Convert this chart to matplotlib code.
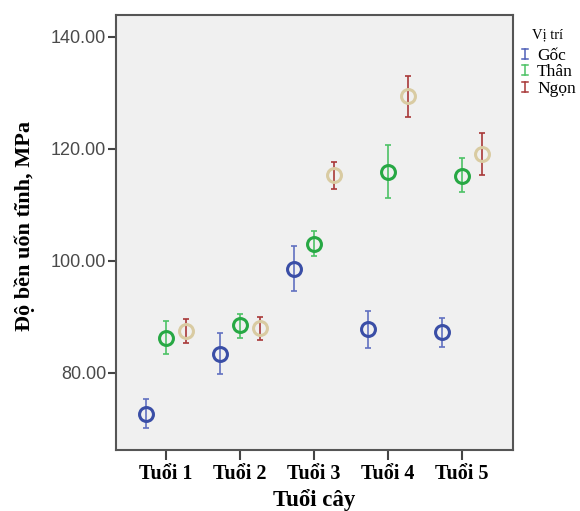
import matplotlib.pyplot as plt
from matplotlib.lines import Line2D
import numpy as np

# Tuổi cây categories
ages = ['Tuổi 1', 'Tuổi 2', 'Tuổi 3', 'Tuổi 4', 'Tuổi 5']
positions = ['Gốc', 'Thân', 'Ngọn']

# means and 95% CI bounds (MPa)
goc_mean = [72.7, 83.4, 98.6, 87.8, 87.3]
goc_low = [70.2, 79.8, 94.7, 84.4, 84.7]
goc_high = [75.4, 87.1, 102.6, 91.0, 89.9]

than_mean = [86.3, 88.5, 103.1, 115.9, 115.2]
than_low = [83.3, 86.3, 100.9, 111.3, 112.3]
than_high = [89.3, 90.6, 105.4, 120.7, 118.3]

ngon_mean = [87.5, 88.0, 115.3, 129.5, 119.1]
ngon_low = [85.3, 85.8, 112.8, 125.7, 115.4]
ngon_high = [89.6, 90.0, 117.6, 133.0, 122.8]

series = [
    (goc_mean, goc_low, goc_high, '#3a4ea6', '#6070c0'),
    (than_mean, than_low, than_high, '#27a844', '#4cc265'),
    (ngon_mean, ngon_low, ngon_high, '#d9cba2', '#a83838'),
]

W, H = 580, 511
fig = plt.figure(figsize=(W / 100, H / 100), dpi=100)
ax = fig.add_axes([116 / W, 1 - 450 / H, 397 / W, 435 / H])
ax.set_facecolor('#f0f0f0')

x = np.arange(1, len(ages) + 1)
offset = 0.27
for i, (m, lo, hi, mcol, bcol) in enumerate(series):
    m = np.array(m)
    xs = x + (i - 1) * offset
    yerr = [m - np.array(lo), np.array(hi) - m]
    ax.errorbar(xs, m, yerr=yerr, fmt='none', ecolor=bcol, elinewidth=1.2,
                capsize=2.5, capthick=1.2)
    ax.plot(xs, m, 'o', ms=10, mfc='none', mec=mcol, mew=2.2)

ax.set_xlim(1 - 0.676, 5 + 0.69)
ax.set_ylim(66.25, 143.9)
ax.set_xticks(x)
ax.set_xticklabels(ages, family='Liberation Serif', fontweight='bold', fontsize=14.5)
ax.set_yticks([80, 100, 120, 140])
ax.set_yticklabels(['80.00', '100.00', '120.00', '140.00'],
                   family='Liberation Sans', fontsize=13, color='#4a4a4a')
ax.tick_params(axis='y', length=6, width=1.5, color='#444444', pad=1)
ax.tick_params(axis='x', length=7, width=1.5, color='#444444', pad=3)
for s in ax.spines.values():
    s.set_color('#555555')
    s.set_linewidth(1.5)

ax.set_xlabel('Tuổi cây', family='Liberation Serif', fontweight='bold', fontsize=16.5, labelpad=3.5)
ax.set_ylabel('Độ bền uốn tĩnh, MPa', family='Liberation Serif', fontweight='bold', fontsize=16)
ax.yaxis.set_label_coords((35 - 116) / 397, 0.515)

# legend drawn by hand (SPSS style I-beam markers)
def fx(px):
    return px / W

def fy(py):
    return 1 - py / H

fig.text(fx(532), fy(38), 'Vị trí', family='Liberation Serif', fontsize=10.5, va='baseline')
leg_cols = ['#5060b8', '#4cc265', '#a83838']
for j, name in enumerate(positions):
    base = 60 + j * 16.5
    fig.text(fx(537), fy(base), name, family='Liberation Serif', fontsize=12.5, va='baseline')
    cx = 525
    top, bot = base - 11, base - 1
    fig.add_artist(Line2D([fx(cx), fx(cx)], [fy(top), fy(bot)], color=leg_cols[j], lw=1.1))
    for yy in (top, bot):
        fig.add_artist(Line2D([fx(cx - 3), fx(cx + 3)], [fy(yy), fy(yy)], color=leg_cols[j], lw=1.1))

fig.savefig('out.png', dpi=100)
